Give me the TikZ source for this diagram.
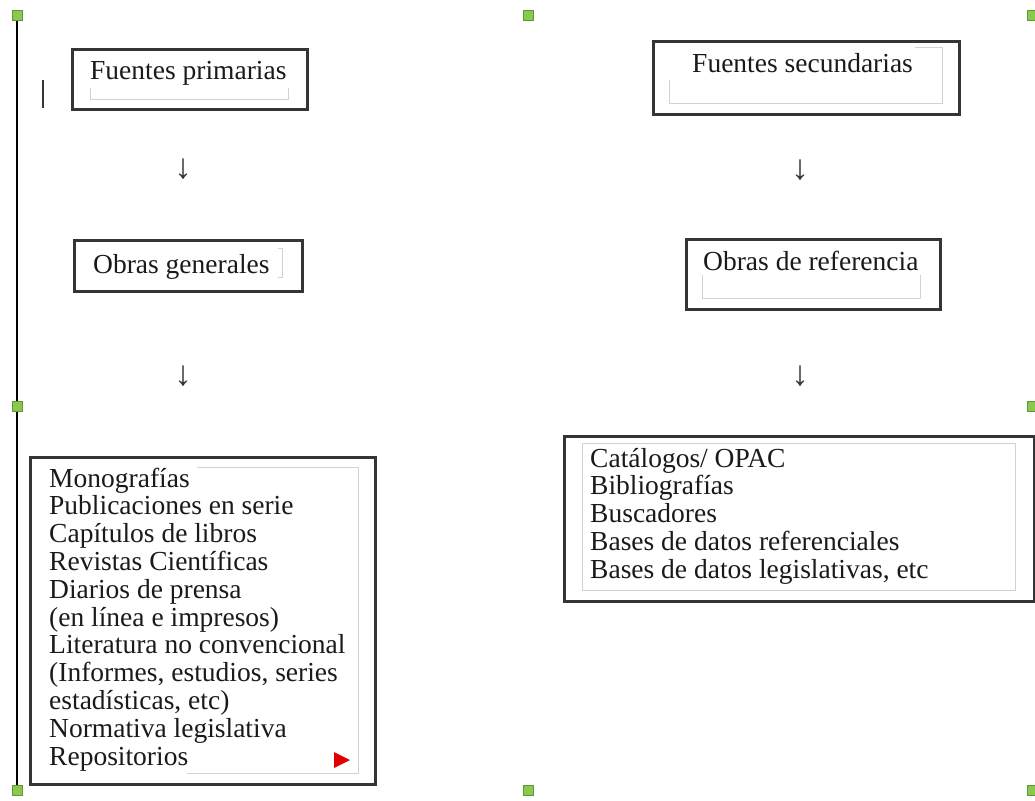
\documentclass[tikz,border=0pt]{standalone}
\usepackage{fontspec}
\setmainfont{Liberation Serif}
\definecolor{boxgray}{HTML}{353535}
\definecolor{innergray}{HTML}{D2D2D2}
\definecolor{textblack}{HTML}{1A1A1A}
\definecolor{handlegreen}{HTML}{8CC850}
\definecolor{handledark}{HTML}{5A9A30}
\definecolor{redmark}{HTML}{E00000}
\tikzset{
  outerbox/.style={draw=boxgray, line width=2.6pt, inner sep=0pt, anchor=north west},
  innerline/.style={draw=innergray, line width=1pt},
  txt/.style={font=\fontsize{27.5}{27.8}\selectfont, text=textblack, inner sep=0pt, anchor=base west},
  arrowglyph/.style={font=\fontsize{35}{35}\selectfont, text=boxgray, inner sep=0pt, anchor=center},
  handle/.style={draw=handledark, fill=handlegreen, line width=1pt, minimum size=10pt, inner sep=0pt, rectangle},
  frameline/.style={draw=black, line width=1.5pt}
}
\begin{document}
\begin{tikzpicture}[x=1pt,y=-1pt]
\useasboundingbox (0,0) rectangle (1035,800);
\fill[white] (0,0) rectangle (1035,800);

% left frame line and tick
\coordinate (ftop) at (17,16);
\coordinate (fbot) at (17,790);
\draw[frameline] (ftop) -- (fbot);
\coordinate (tickA) at (43,80);
\coordinate (tickB) at (43,108);
\draw[draw=boxgray, line width=1.5pt] (tickA) -- (tickB);

% Fuentes primarias
\node[outerbox, minimum width=235pt, minimum height=60pt] (fp) at (71,48) {};
\draw[innerline] (90,88) -- (90,99) -- (288,99) -- (288,88);
\node[txt] (tfp) at (90,79) {Fuentes primarias};

% Fuentes secundarias
\node[outerbox, minimum width=306pt, minimum height=73pt] (fs) at (652,40) {};
\draw[innerline] (915,48) -- (942,48) -- (942,103) -- (669,103) -- (669,80);
\node[txt] (tfs) at (692,73) {Fuentes secundarias};

% arrows (glyphs)
\node[arrowglyph] (a1) at (183,169) {↓};
\node[arrowglyph] (a2) at (800,170) {↓};
\node[arrowglyph] (a3) at (183,376) {↓};
\node[arrowglyph] (a4) at (800,376) {↓};

% Obras generales
\node[outerbox, minimum width=228pt, minimum height=51pt] (og) at (73,239) {};
\draw[innerline] (278,248) -- (282,248) -- (282,277) -- (278,277);
\node[txt] (tog) at (93,273) {Obras generales};

% Obras de referencia
\node[outerbox, minimum width=254pt, minimum height=70pt] (or) at (685,238) {};
\draw[innerline] (702,275) -- (702,298) -- (920,298) -- (920,275);
\node[txt] (tor) at (703,270) {Obras de referencia};

% Left list box
\node[outerbox, minimum width=345pt, minimum height=327pt] (ll) at (29,456) {};
\draw[innerline] (197,467) -- (358,467) -- (358,773) -- (187,773);
\foreach \t [count=\i from 0] in {Monografías,Publicaciones en serie,Capítulos de libros,Revistas Científicas,Diarios de prensa,(en línea e impresos),Literatura no convencional,{(Informes, estudios, series},{estadísticas, etc)},Normativa legislativa,Repositorios}{
  \node[txt] (L\i) at (49,487+27.8*\i) {\t};
}
\fill[redmark] (334,752) -- (334,768) -- (350,760) -- cycle;

% Right list box
\node[outerbox, minimum width=470pt, minimum height=165pt] (rl) at (563,435) {};
\draw[innerline] (582,443) rectangle (1015,590);
\foreach \t [count=\i from 0] in {Catálogos/ OPAC,Bibliografías,Buscadores,Bases de datos referenciales,{Bases de datos legislativas, etc}}{
  \node[txt] (R\i) at (590,467+27.75*\i) {\t};
}

% selection handles
\node[handle] (h1) at (17,16) {};
\node[handle] (h2) at (528,16) {};
\node[handle] (h3) at (1032,16) {};
\node[handle] (h4) at (17,406) {};
\node[handle] (h5) at (1032,406) {};
\node[handle] (h6) at (17,790) {};
\node[handle] (h7) at (528,790) {};
\node[handle] (h8) at (1032,790) {};
\end{tikzpicture}
\end{document}
